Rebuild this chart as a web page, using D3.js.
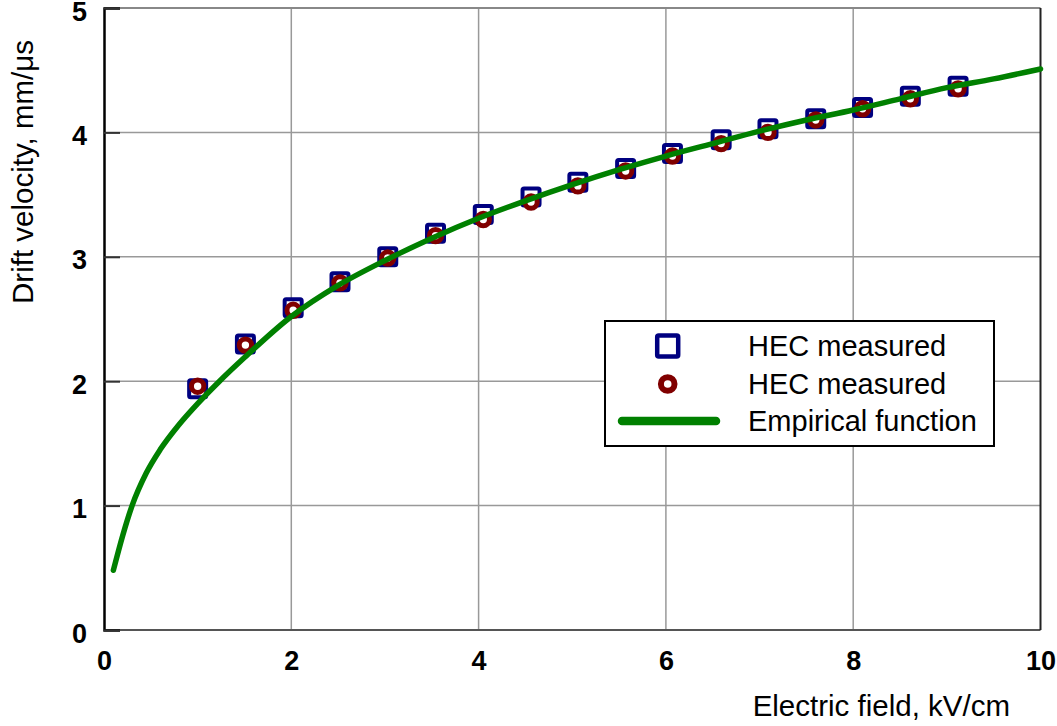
<!DOCTYPE html>
<html>
<head>
<meta charset="utf-8">
<script src="https://cdn.jsdelivr.net/npm/d3@7"></script>
<style>
  html, body { margin: 0; padding: 0; background: #fff; }
  svg { display: block; }
  text { font-family: "Liberation Sans", Arial, sans-serif; }
</style>
</head>
<body>
<svg id="chart" width="1057" height="726"></svg>
<script>
// ---- data ----
const fieldKVcm = [1.00, 1.51, 2.02, 2.52, 3.03, 3.54, 4.05, 4.56, 5.06, 5.57, 6.07, 6.59, 7.09, 7.60, 8.10, 8.61, 9.12];
const hecSquares = [1.94, 2.30, 2.59, 2.80, 3.00, 3.19, 3.34, 3.48, 3.60, 3.71, 3.83, 3.94, 4.03, 4.11, 4.20, 4.29, 4.37];
const hecCircles = [1.96, 2.29, 2.57, 2.79, 2.99, 3.17, 3.30, 3.44, 3.57, 3.69, 3.81, 3.91, 4.00, 4.10, 4.19, 4.27, 4.35];
const curveX = [0.1, 0.2, 0.3, 0.45, 0.6, 0.8, 1.0, 1.22, 1.5, 2.0, 2.5, 3.0, 3.5, 4.0, 4.5, 5.0, 5.5, 6.0, 6.5, 7.0, 7.5, 8.0, 8.5, 9.0, 9.5, 10.0];
const curveY = [0.48, 0.76, 1.00, 1.26, 1.45, 1.65, 1.82, 1.99, 2.19, 2.52, 2.77, 2.97, 3.15, 3.31, 3.45, 3.58, 3.70, 3.81, 3.91, 4.01, 4.10, 4.18, 4.27, 4.36, 4.43, 4.51];
const xTicks = [0, 2, 4, 6, 8, 10];
const yTicks = [0, 1, 2, 3, 4, 5];
const legendLabels = ["HEC measured", "HEC measured", "Empirical function"];
const xTitle = "Electric field, kV/cm";
const yTitle = "Drift velocity, mm/\u03bcs";

// ---- layout ----
const L = 104, R = 1040.5, T = 8, B = 630;
const svg = d3.select("#chart");
const x = d3.scaleLinear().domain([0, 10]).range([L, R]);
const y = d3.scaleLinear().domain([0, 5]).range([B, T]);

// grid
const grid = svg.append("g");
grid.selectAll("line.v").data(xTicks.filter(d => d > 0 && d < 10)).join("line")
  .attr("x1", d => x(d)).attr("x2", d => x(d)).attr("y1", T).attr("y2", B)
  .attr("stroke", "#999").attr("stroke-width", 1.5);
grid.selectAll("line.h").data(yTicks.filter(d => d > 0 && d < 5)).join("line")
  .attr("x1", L).attr("x2", R).attr("y1", d => y(d)).attr("y2", d => y(d))
  .attr("stroke", "#999").attr("stroke-width", 1.5);

// frame
svg.append("line").attr("x1", L).attr("x2", R).attr("y1", T).attr("y2", T).attr("stroke", "#888").attr("stroke-width", 2);
svg.append("line").attr("x1", L).attr("x2", R).attr("y1", B).attr("y2", B).attr("stroke", "#555").attr("stroke-width", 2);
svg.append("line").attr("x1", R).attr("x2", R).attr("y1", T).attr("y2", B).attr("stroke", "#222").attr("stroke-width", 2);

// y axis (ticks inside)
const yAxis = d3.axisLeft(y).tickValues(yTicks).tickSize(-16).tickPadding(17).tickFormat(d3.format("d"));
const ya = svg.append("g").attr("transform", `translate(${L},0)`).call(yAxis);
ya.select(".domain").attr("stroke", "#000").attr("stroke-width", 2.5);
ya.selectAll(".tick line").attr("stroke", "#333").attr("stroke-width", 2);
ya.selectAll(".tick text").attr("font-size", 27).attr("font-weight", "bold").attr("fill", "#000")
  .attr("font-family", "Liberation Sans, Arial, sans-serif").attr("dy", "0.45em");

// x axis labels
const xAxis = d3.axisBottom(x).tickValues(xTicks).tickSize(0).tickPadding(21).tickFormat(d3.format("d"));
const xa = svg.append("g").attr("transform", `translate(0,${B})`).call(xAxis);
xa.select(".domain").remove();
xa.selectAll(".tick text").attr("font-size", 27).attr("font-weight", "bold").attr("fill", "#000")
  .attr("font-family", "Liberation Sans, Arial, sans-serif");

// titles
svg.append("text").attr("x", 1010).attr("y", 716).attr("text-anchor", "end")
  .attr("font-size", 29.5).attr("fill", "#000").text(xTitle);
svg.append("text").attr("transform", "translate(33,40) rotate(-90)").attr("text-anchor", "end")
  .attr("font-size", 29.5).attr("fill", "#000").text(yTitle);

// data
const pts = fieldKVcm.map((d, i) => ({x: d, s: hecSquares[i], c: hecCircles[i]}));
svg.append("g").selectAll("rect").data(pts).join("rect")
  .attr("x", d => x(d.x) - 8.5).attr("y", d => y(d.s) - 8.5).attr("width", 17).attr("height", 17)
  .attr("rx", 1.5).attr("fill", "#fff").attr("stroke", "#000080").attr("stroke-width", 4);
svg.append("g").selectAll("circle").data(pts).join("circle")
  .attr("cx", d => x(d.x)).attr("cy", d => y(d.c)).attr("r", 6.2)
  .attr("fill", "#fff").attr("stroke", "#800000").attr("stroke-width", 5);

const line = d3.line().x(d => x(d[0])).y(d => y(d[1])).curve(d3.curveMonotoneX);
svg.append("path").datum(curveX.map((d, i) => [d, curveY[i]]))
  .attr("d", line).attr("fill", "none").attr("stroke", "#008000").attr("stroke-width", 5.5)
  .attr("stroke-linecap", "round");

// legend
const lg = svg.append("g");
lg.append("rect").attr("x", 605).attr("y", 321).attr("width", 389).attr("height", 125)
  .attr("fill", "#fff").attr("stroke", "#000").attr("stroke-width", 2);
const rowY = [346, 384, 421];
lg.append("rect").attr("x", 667.7 - 10.5).attr("y", rowY[0] - 10.5).attr("width", 21).attr("height", 21)
  .attr("rx", 1.5).attr("fill", "#fff").attr("stroke", "#000080").attr("stroke-width", 4.5);
lg.append("circle").attr("cx", 667.7).attr("cy", rowY[1]).attr("r", 6.8)
  .attr("fill", "#fff").attr("stroke", "#800000").attr("stroke-width", 6);
lg.append("line").attr("x1", 622).attr("x2", 716).attr("y1", rowY[2]).attr("y2", rowY[2])
  .attr("stroke", "#008000").attr("stroke-width", 8.5).attr("stroke-linecap", "round");
lg.selectAll("text").data(legendLabels).join("text")
  .attr("x", 748).attr("y", (d, i) => rowY[i]).attr("dy", "0.36em")
  .attr("font-size", 29).attr("fill", "#000").text(d => d);
</script>
</body>
</html>
